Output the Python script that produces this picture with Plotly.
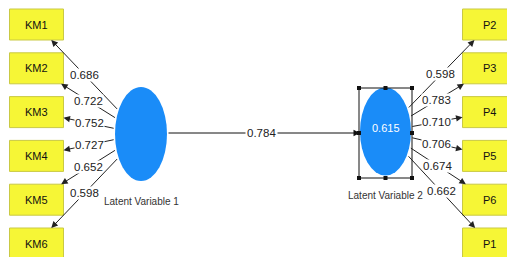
import math
import plotly.graph_objects as go

# ---- data ----
left_indicators = ["KM1", "KM2", "KM3", "KM4", "KM5", "KM6"]
left_loadings = [0.686, 0.722, 0.752, 0.727, 0.652, 0.598]
right_indicators = ["P2", "P3", "P4", "P5", "P6", "P1"]
right_loadings = [0.598, 0.783, 0.710, 0.706, 0.674, 0.662]
latent_names = ["Latent Variable 1", "Latent Variable 2"]
path_coef = 0.784
r_squared = 0.615

# ---- layout constants ----
W, H = 515, 257
PAGE_OFF = 8  # default body margin of the html page
BOX_TOP_CY = 24.5
BOX_STEP = 43.8
BOX_HW, BOX_HH = 27, 15.5
LEFT_BOX_CX, RIGHT_BOX_CX = 36.5, 489.5
LV = [dict(cx=141, cy=134, rx=26, ry=47), dict(cx=385.5, cy=131.5, rx=25.5, ry=44)]
PATH_Y = 133
BLUE = "#1a8cf8"
YELLOW = "#f6f636"
YBORDER = "#c9c944"
FONT = "Liberation Sans, Arial, sans-serif"

shapes, annots = [], []


def clip_ellipse(lv, dx, dy):
    n = math.hypot(dx / lv["rx"], dy / lv["ry"])
    return lv["cx"] + dx / n, lv["cy"] + dy / n


def clip_box(bx, by, dx, dy):
    t = min(BOX_HW / abs(dx) if dx else 1e9, BOX_HH / abs(dy) if dy else 1e9)
    return bx + dx * t, by + dy * t


def add_block(names, loads, box_cx, lv):
    for i, (nm, ld) in enumerate(zip(names, loads)):
        by = BOX_TOP_CY + i * BOX_STEP
        shapes.append(dict(type="rect", xref="x", yref="y",
                           x0=box_cx - BOX_HW, x1=box_cx + BOX_HW,
                           y0=by - BOX_HH, y1=by + BOX_HH,
                           fillcolor=YELLOW, line=dict(color=YBORDER, width=1), layer="below"))
        annots.append(dict(x=box_cx, y=by, xref="x", yref="y", text=nm, showarrow=False,
                           font=dict(family=FONT, size=11, color="#111")))
        dx, dy = box_cx - lv["cx"], by - lv["cy"]
        sx, sy = clip_ellipse(lv, dx, dy)
        tx, ty = clip_box(box_cx, by, -dx, -dy)
        annots.append(dict(x=tx, y=ty, ax=sx, ay=sy, xref="x", yref="y", axref="x", ayref="y",
                           text="", showarrow=True, arrowhead=2, arrowsize=1.3, arrowwidth=1,
                           arrowcolor="#222", standoff=0, startstandoff=0))
        annots.append(dict(x=(sx + tx) / 2, y=(sy + ty) / 2, xref="x", yref="y",
                           text=f"{ld:.3f}", showarrow=False, bgcolor="white", borderpad=0,
                           font=dict(family=FONT, size=11.5, color="#222")))


add_block(left_indicators, left_loadings, LEFT_BOX_CX, LV[0])
add_block(right_indicators, right_loadings, RIGHT_BOX_CX, LV[1])

# latent ellipses
for lv, nm in zip(LV, latent_names):
    shapes.append(dict(type="circle", xref="x", yref="y",
                       x0=lv["cx"] - lv["rx"], x1=lv["cx"] + lv["rx"],
                       y0=lv["cy"] - lv["ry"], y1=lv["cy"] + lv["ry"],
                       fillcolor=BLUE, line=dict(width=0)))
    annots.append(dict(x=lv["cx"], y=lv["cy"] + lv["ry"] + 20, xref="x", yref="y", text=nm,
                       showarrow=False, font=dict(family=FONT, size=10, color="#333")))

annots.append(dict(x=LV[1]["cx"], y=LV[1]["cy"] - 4, xref="x", yref="y", text=f"{r_squared:.3f}",
                   showarrow=False, font=dict(family=FONT, size=11, color="white")))

# structural path
x_start = LV[0]["cx"] + LV[0]["rx"]
x_end = LV[1]["cx"] - LV[1]["rx"]
annots.append(dict(x=x_end, y=PATH_Y, ax=x_start, ay=PATH_Y, xref="x", yref="y", axref="x", ayref="y",
                   text="", showarrow=True, arrowhead=2, arrowsize=1.3, arrowwidth=1,
                   arrowcolor="#111", standoff=0))
annots.append(dict(x=(x_start + x_end) / 2 - 2, y=PATH_Y, xref="x", yref="y", text=f"{path_coef:.3f}",
                   showarrow=False, bgcolor="white", borderpad=1,
                   font=dict(family=FONT, size=11.5, color="#222")))

# selection frame around latent variable 2
lv = LV[1]
sx0, sx1 = lv["cx"] - 26.5, lv["cx"] + 26.5
sy0, sy1 = 88, 178
shapes.append(dict(type="rect", xref="x", yref="y", x0=sx0, x1=sx1, y0=sy0, y1=sy1,
                   line=dict(color="#111", width=1), fillcolor="rgba(0,0,0,0)"))
for hx in (sx0, (sx0 + sx1) / 2, sx1):
    for hy in (sy0, (sy0 + sy1) / 2, sy1):
        if hx == (sx0 + sx1) / 2 and hy == (sy0 + sy1) / 2:
            continue
        shapes.append(dict(type="rect", xref="x", yref="y", x0=hx - 2, x1=hx + 2,
                           y0=hy - 2, y1=hy + 2, fillcolor="#111", line=dict(width=0)))

fig = go.Figure()
fig.update_layout(
    width=W - PAGE_OFF, height=H - PAGE_OFF, margin=dict(l=0, r=0, t=0, b=0),
    paper_bgcolor="white", plot_bgcolor="white",
    xaxis=dict(range=[PAGE_OFF, W], visible=False, fixedrange=True),
    yaxis=dict(range=[H, PAGE_OFF], visible=False, fixedrange=True),
    shapes=shapes, annotations=annots, showlegend=False,
)
fig.write_html("out.html")
